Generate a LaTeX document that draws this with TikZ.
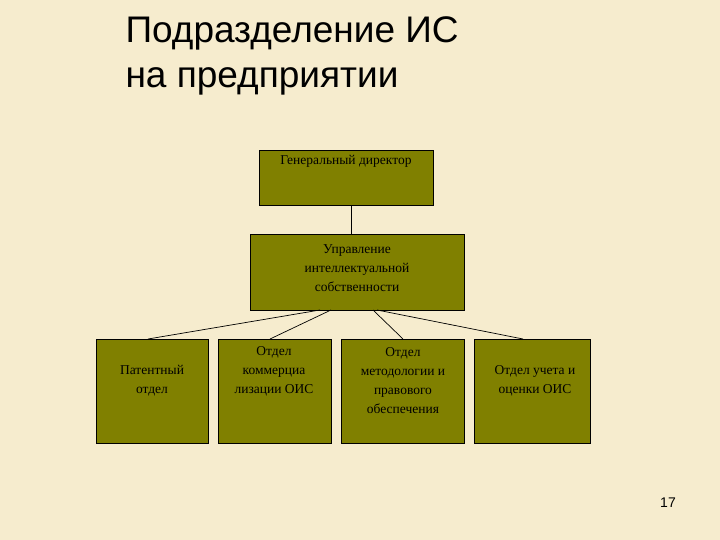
\documentclass[tikz,border=0pt]{standalone}
\usepackage{fontspec}
\setmainfont{Liberation Serif}
\newfontfamily\titlefont{Liberation Sans}
\definecolor{olivebox}{RGB}{128,128,0}
\definecolor{bgbeige}{RGB}{246,236,206}
\begin{document}
\begin{tikzpicture}[x=1pt,y=-1pt,
  box/.style={draw=black,fill=olivebox,line width=0.8pt,inner sep=0pt},
  lbl/.style={align=center,font=\fontsize{13.5}{19}\selectfont,text=black},
  conn/.style={draw=black,line width=0.7pt}]
\fill[bgbeige] (0,0) rectangle (720,540);
\useasboundingbox (0,0) rectangle (720,540);
\node[anchor=north west,align=left,font=\titlefont\fontsize{37}{45}\selectfont] (title) at (122,13) {Подразделение ИС\\на предприятии};
\node[font=\titlefont\fontsize{14}{16}\selectfont] (num) at (668,503) {17};
\node[box,minimum width=174,minimum height=55,anchor=north west] (gd) at (259,150) {};
\node[lbl] (gdt) at (346,161) {Генеральный директор};
\node[box,minimum width=214,minimum height=76,anchor=north west] (uis) at (250,234) {};
\node[lbl] (uist) at (357,268) {Управление\\интеллектуальной\\собственности};
\node[box,minimum width=112,minimum height=104,anchor=north west] (b1) at (96,339) {};
\node[lbl] (b1t) at (152,381) {Патентный\\отдел};
\node[box,minimum width=113,minimum height=104,anchor=north west] (b2) at (218,339) {};
\node[lbl] (b2t) at (274,371) {Отдел\\коммерциа\\лизации ОИС};
\node[box,minimum width=123,minimum height=104,anchor=north west] (b3) at (341,339) {};
\node[lbl] (b3t) at (403,381) {Отдел\\методологии и\\правового\\обеспечения};
\node[box,minimum width=116,minimum height=104,anchor=north west] (b4) at (474,339) {};
\node[lbl] (b4t) at (535,381) {Отдел учета и\\оценки ОИС};
\coordinate (g1) at (351,205); \coordinate (g2) at (351,234);
\coordinate (u1) at (320,310); \coordinate (u2) at (331,310);
\coordinate (u3) at (373,310); \coordinate (u4) at (377,310);
\coordinate (t1) at (148,339); \coordinate (t2) at (270,339);
\coordinate (t3) at (403,339); \coordinate (t4) at (523,339);
\draw[conn] (g1) -- (g2);
\draw[conn] (u1) -- (t1);
\draw[conn] (u2) -- (t2);
\draw[conn] (u3) -- (t3);
\draw[conn] (u4) -- (t4);
\end{tikzpicture}
\end{document}
